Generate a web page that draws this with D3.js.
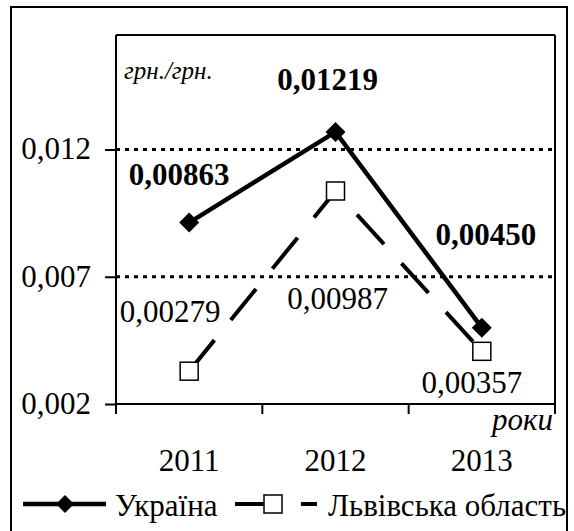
<!DOCTYPE html>
<html>
<head>
<meta charset="utf-8">
<script src="https://cdn.jsdelivr.net/npm/d3@7"></script>
</head>
<body style="margin:0;padding:0;background:#fff">
<svg id="chart" width="574" height="531" style="display:block"></svg>
<script>
// ---- data ----
const years = ["2011", "2012", "2013"];
const ukraine = [0.00863, 0.01219, 0.00450];
const lviv = [0.00279, 0.00987, 0.00357];
const ukraineLabels = ["0,00863", "0,01219", "0,00450"];
const lvivLabels = ["0,00279", "0,00987", "0,00357"];
const seriesNames = ["Україна", "Львівська область"];
const yTickValues = [0.0015, 0.0065, 0.0115];
const yTickLabels = ["0,002", "0,007", "0,012"];
const yDomain = [0.0015, 0.016];
const yUnit = "грн./грн.";
const xUnit = "роки";

// ---- layout ----
const FONT = "Liberation Serif";
const FS = 31;
const plot = { left: 116, top: 35, right: 555, bottom: 404 };
const svg = d3.select("#chart");

function txt(sel, size, extra) {
  sel.attr("font-family", FONT).attr("font-size", size)
     .style("font-family", FONT).style("font-size", size + "px");
  if (extra && extra.bold) sel.attr("font-weight", "bold").style("font-weight", "bold");
  if (extra && extra.italic) sel.attr("font-style", "italic").style("font-style", "italic");
  return sel;
}

// outer frame
svg.append("rect").attr("x", 11).attr("y", 7).attr("width", 556).attr("height", 540)
  .attr("fill", "none").attr("stroke", "#000").attr("stroke-width", 2);

const x = d3.scaleBand().domain(years).range([plot.left, plot.right]).padding(0);
const y = d3.scaleLinear().domain(yDomain).range([plot.bottom, plot.top]);
const cx = d => x(d) + x.bandwidth() / 2;

// dotted gridlines (skip the one on the axis)
svg.append("g").selectAll("line").data(yTickValues.slice(1)).join("line")
  .attr("x1", plot.left).attr("x2", plot.right)
  .attr("y1", d => y(d)).attr("y2", d => y(d))
  .attr("stroke", "#000").attr("stroke-width", 3).attr("stroke-dasharray", "4,5");

// plot border top & right
svg.append("line").attr("x1", plot.left).attr("x2", plot.right).attr("y1", plot.top).attr("y2", plot.top)
  .attr("stroke", "#000").attr("stroke-width", 2);
svg.append("line").attr("x1", plot.right).attr("x2", plot.right).attr("y1", plot.top).attr("y2", plot.bottom)
  .attr("stroke", "#000").attr("stroke-width", 2);

// y axis
const yAxis = d3.axisLeft(y).tickValues(yTickValues).tickSize(11).tickPadding(14)
  .tickFormat((d, i) => yTickLabels[i]);
const gy = svg.append("g").attr("transform", `translate(${plot.left},0)`).call(yAxis)
  .attr("font-family", FONT).attr("font-size", FS);
gy.select(".domain").attr("stroke-width", 2).attr("d", `M0,${plot.top}V${plot.bottom}`);
gy.selectAll(".tick line").attr("stroke-width", 2);
txt(gy.selectAll("text"), FS).attr("dy", "0.3em");

// x axis
const xAxis = d3.axisBottom(x).tickSize(0).tickPadding(50);
const gx = svg.append("g").attr("transform", `translate(0,${plot.bottom})`).call(xAxis)
  .attr("font-family", FONT).attr("font-size", FS);
gx.select(".domain").attr("stroke-width", 2).attr("d", `M${plot.left},0H${plot.right}`);
txt(gx.selectAll("text"), FS).attr("dy", 0).attr("y", 67);
// x tick marks at category edges
svg.append("g").selectAll("line").data(years.map(d => x(d)).concat([plot.right])).join("line")
  .attr("x1", d => d).attr("x2", d => d).attr("y1", plot.bottom).attr("y2", plot.bottom + 10)
  .attr("stroke", "#000").attr("stroke-width", 2);

// unit labels
txt(svg.append("text").attr("x", plot.left + 8).attr("y", 79), 25, { italic: true }).text(yUnit);
txt(svg.append("text").attr("x", plot.right - 2).attr("y", 430).attr("text-anchor", "end"), FS, { italic: true }).text(xUnit);

// lines
const line = d3.line().x((d, i) => cx(years[i])).y(d => y(d));
svg.append("path").datum(lviv).attr("d", line).attr("fill", "none")
  .attr("stroke", "#000").attr("stroke-width", 4).attr("stroke-dasharray", "40,26");
svg.append("path").datum(ukraine).attr("d", line).attr("fill", "none")
  .attr("stroke", "#000").attr("stroke-width", 4.5).attr("stroke-linejoin", "miter");

// markers
const diamond = (r) => `M0,${-r}L${r},0L0,${r}L${-r},0Z`;
svg.append("g").selectAll("path").data(ukraine).join("path")
  .attr("transform", (d, i) => `translate(${cx(years[i])},${y(d)})`)
  .attr("d", diamond(10)).attr("fill", "#000");
svg.append("g").selectAll("rect").data(lviv).join("rect")
  .attr("x", (d, i) => cx(years[i]) - 9).attr("y", d => y(d) - 9)
  .attr("width", 18).attr("height", 18)
  .attr("fill", "#fff").attr("stroke", "#000").attr("stroke-width", 1.5);

// data labels
const ukrOff = [[-10, -38], [-8, -42], [4, -83]];
const lvivOff = [[-19, -49], [2, 118], [-10, 42]];
txt(svg.append("g").selectAll("text").data(ukraine).join("text")
  .attr("x", (d, i) => cx(years[i]) + ukrOff[i][0]).attr("y", (d, i) => y(d) + ukrOff[i][1])
  .attr("text-anchor", "middle"), FS, { bold: true })
  .text((d, i) => ukraineLabels[i]);
txt(svg.append("g").selectAll("text").data(lviv).join("text")
  .attr("x", (d, i) => cx(years[i]) + lvivOff[i][0]).attr("y", (d, i) => y(d) + lvivOff[i][1])
  .attr("text-anchor", "middle"), FS)
  .text((d, i) => lvivLabels[i]);

// legend
const lg = svg.append("g");
const ly = 504;
lg.append("line").attr("x1", 23).attr("x2", 106).attr("y1", ly).attr("y2", ly)
  .attr("stroke", "#000").attr("stroke-width", 4.5);
lg.append("path").attr("transform", `translate(65,${ly})`).attr("d", diamond(9)).attr("fill", "#000");
txt(lg.append("text").attr("x", 115).attr("y", 516), FS).text(seriesNames[0]);
lg.append("line").attr("x1", 235).attr("x2", 317).attr("y1", ly).attr("y2", ly)
  .attr("stroke", "#000").attr("stroke-width", 4).attr("stroke-dasharray", "40,26");
lg.append("rect").attr("x", 264).attr("y", ly - 9).attr("width", 18).attr("height", 18)
  .attr("fill", "#fff").attr("stroke", "#000").attr("stroke-width", 1.5);
txt(lg.append("text").attr("x", 328).attr("y", 516), FS).text(seriesNames[1]);
</script>
</body>
</html>
